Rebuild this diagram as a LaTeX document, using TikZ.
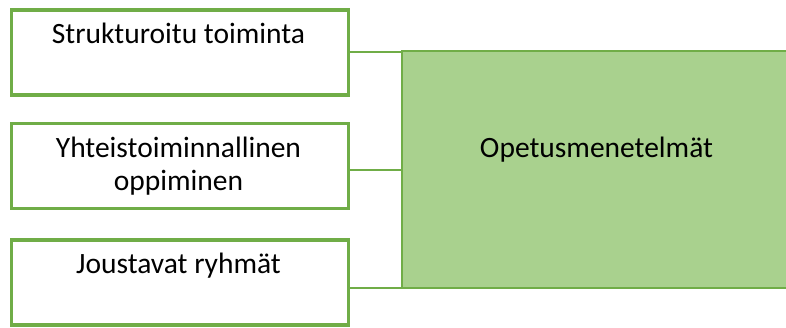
\documentclass[tikz,border=0pt]{standalone}
\usepackage{fontspec}
\setmainfont{Carlito}
\definecolor{gborder}{HTML}{70AD47}
\definecolor{gfill}{HTML}{A9D18E}
\begin{document}
\begin{tikzpicture}[x=1pt,y=-1pt,
  leftbox/.style={draw=gborder,line width=3.2pt,fill=white,minimum width=337pt,minimum height=85pt,inner sep=0pt},
  bigbox/.style={draw=gborder,line width=1.2pt,fill=gfill,minimum width=392pt,minimum height=237pt,inner sep=0pt},
  lbl/.style={font=\fontsize{29.5}{33}\selectfont,align=center,inner sep=0pt,anchor=base},
  conn/.style={draw=gborder,line width=2pt}]
\useasboundingbox (0,0) rectangle (786,327);
\node[bigbox] (g) at (598,169.5) {};
\node[leftbox] (b1) at (180,52.5) {};
\node[leftbox] (b2) at (180,166) {};
\node[leftbox] (b3) at (180,282.5) {};
\node[lbl] (t1) at (178.5,43) {Strukturoitu toiminta};
\node[lbl] (t2) at (178.5,190) {Yhteistoiminnallinen\\oppiminen};
\node[lbl] (t3) at (178.5,273) {Joustavat ryhmät};
\node[lbl] (tg) at (596.5,157) {Opetusmenetelmät};
\coordinate (c1) at (348.5,52);
\coordinate (c2) at (348.5,170);
\coordinate (c3) at (348.5,287.5);
\draw[conn] (c1) -- (c1 -| g.west);
\draw[conn] (c2) -- (c2 -| g.west);
\draw[conn] (c3) -- (c3 -| g.west);
\end{tikzpicture}
\end{document}
